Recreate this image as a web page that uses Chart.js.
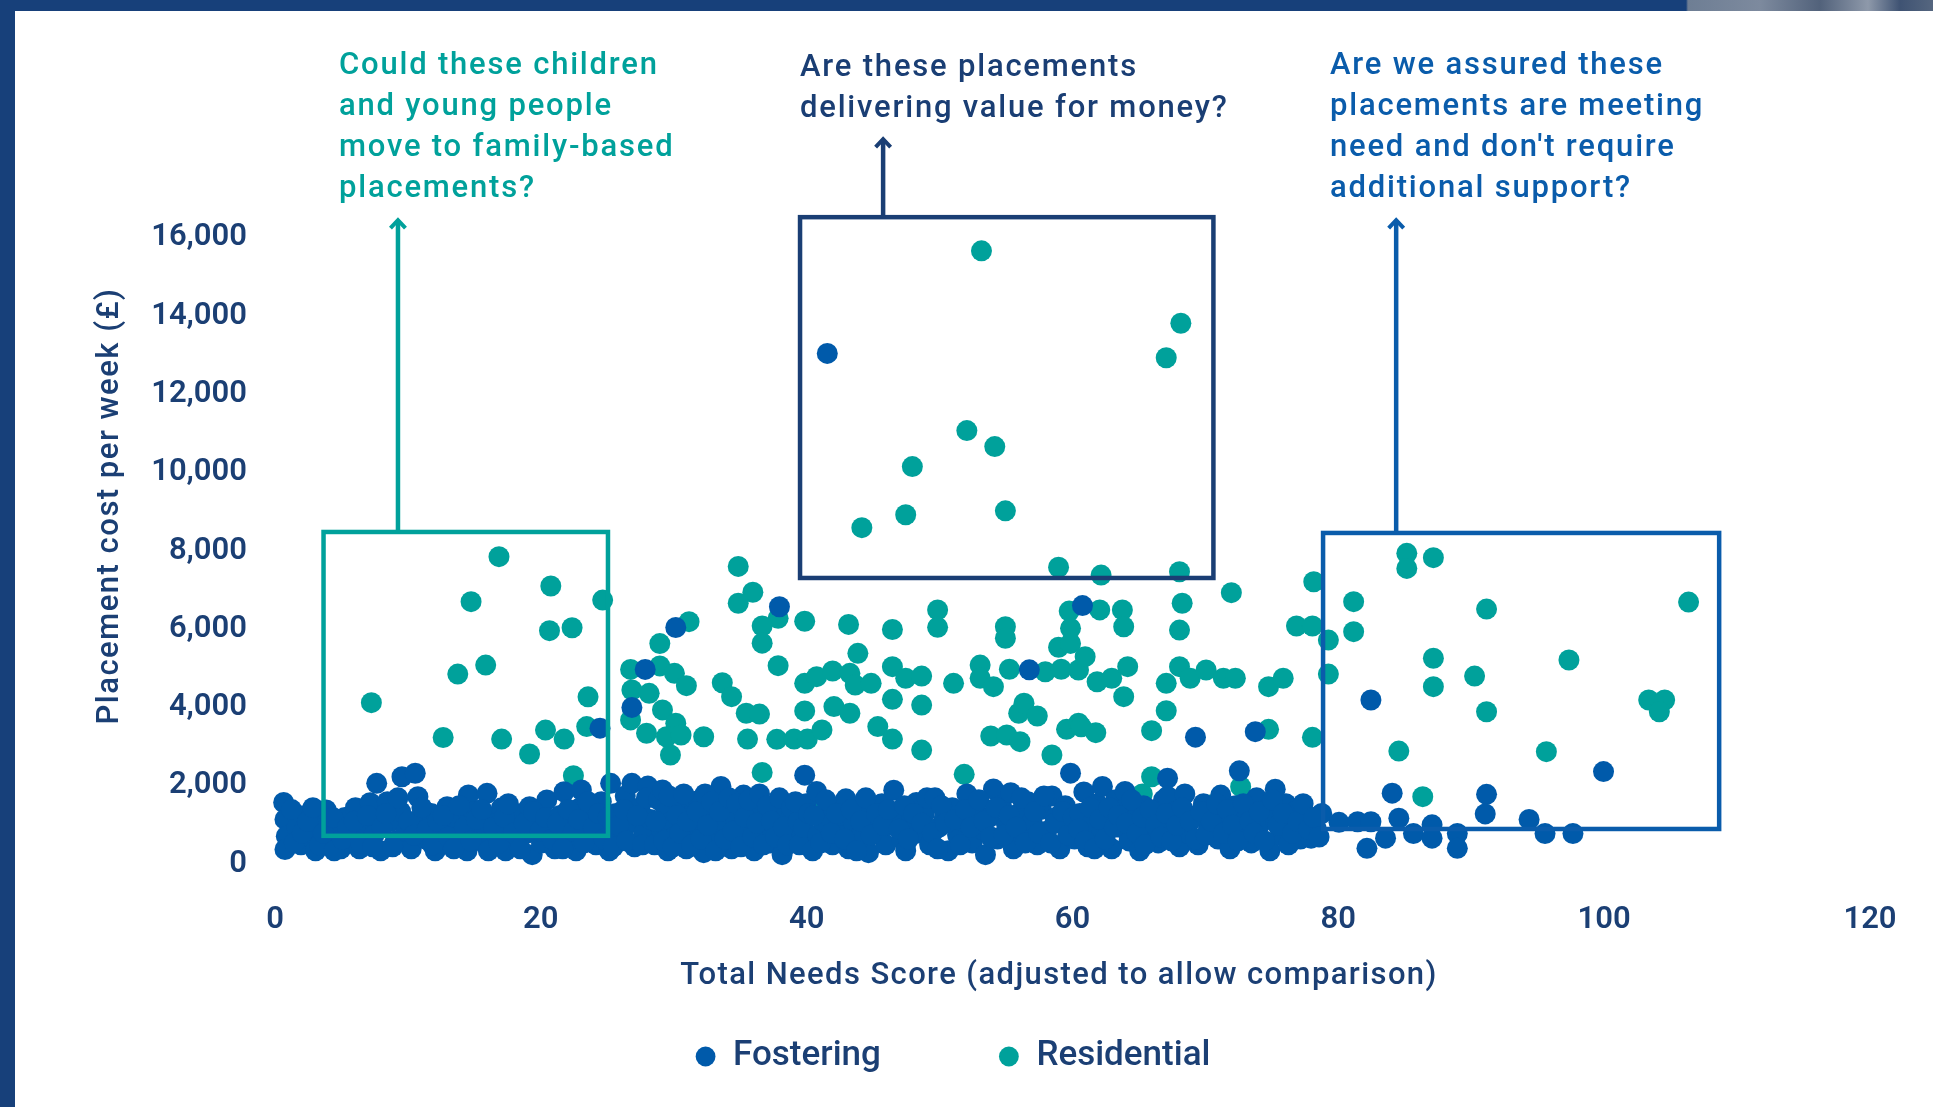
<!DOCTYPE html>
<html lang="en">
<head>
<meta charset="UTF-8">
<title>Placement cost per week against Total Needs Score</title>
<style>
  html, body { margin: 0; padding: 0; background: #fff; }
  body { width: 1933px; height: 1107px; position: relative; overflow: hidden; }
  /* page frame: dark bar at the top and on the left */
  .top-bar {
    position: absolute; left: 0; top: 0; width: 1933px; height: 11px;
    background: linear-gradient(to right, #17407a 0, #17407a 1686px, #6e7e94 1688px, #7d8a9e 1760px,
                #52627b 1820px, #8e99aa 1868px, #3f5373 1900px, #55667f 1933px);
  }
  .left-bar { position: absolute; left: 0; top: 0; width: 15px; height: 1107px; background: #17407a; }
  .chart-box { position: absolute; left: 0; top: 0; width: 1933px; height: 1107px; }
</style>
</head>
<body>
<div class="top-bar"></div>
<div class="left-bar"></div>
<div class="chart-box"><canvas id="scatter"></canvas></div>

<script src="https://cdn.jsdelivr.net/npm/chart.js"></script>
<script>
// ---- data: [needs score, cost per week £] ----
const seriesNames = ['Fostering', 'Residential'];
const xTickValues = [0, 20, 40, 60, 80, 100, 120];
const yTickValues = [0, 2000, 4000, 6000, 8000, 10000, 12000, 14000, 16000];

const fostering = [
  // the few high-cost ones
  [41.1,12950],[37.5,6480],[60.3,6510],[29.7,5950],[27.4,4880],[56.3,4870],[82.0,4100],[26.4,3910],
  [24.0,3380],[73.3,3290],[68.8,3150],[99.5,2270],[72.1,2290],[59.4,2230],[39.4,2180],[66.7,2100],
  [74.8,1820],[83.6,1720],[90.7,1690],[90.6,1190],
  // the dense band near the floor
  [0.2,1480],[0.3,1050],[0.4,620],[0.3,280],[1.2,850],[1.5,400],[1.8,1150],[2.2,600],[2.6,250],
  [3.0,950],[3.4,1290],[3.6,500],[4.2,780],[4.5,300],[4.8,1100],[5.3,560],[5.6,1350],[5.9,300],
  [6.2,900],[6.7,1476],[7.2,1971],[7.0,650],[7.5,250],[8.0,1502],[8.3,1000],[8.6,500],[9.1,2140],
  [9.0,1250],[9.4,750],[9.8,300],[10.1,2227],[10.3,1629],[10.5,950],[10.9,550],[11.3,1200],[11.6,250],
  [12.0,800],[12.5,1374],[12.8,450],
  [0.8,1300],[1.0,450],[1.6,700],[2.0,1000],[2.4,1350],[2.9,400],[3.2,700],[3.9,1100],[4.0,250],
  [4.6,550],[5.0,850],[5.5,1000],[6.0,450],[6.5,1150],[6.9,350],[7.6,850],[7.9,1200],[8.4,350],
  [8.8,1600],[9.6,1000],[10.0,650],
  [13.2,1050],[13.6,650],[14.1,1673],[14.0,250],[14.5,1250],[14.9,850],[15.5,1716],[15.3,450],
  [15.8,1100],[16.2,650],[16.6,1350],[16.9,250],[17.3,900],[17.7,500],[18.1,1200],[18.7,1374],
  [18.5,700],[18.9,150],[19.3,1000],[19.6,450],[20.0,1545],[20.2,800],[20.6,300],
  [10.6,1350],[11.0,800],[11.4,400],[11.8,1000],[12.2,1150],[12.6,600],[13.0,300],[13.4,1400],
  [13.8,850],[14.3,500],[14.7,1050],[15.1,1300],[15.6,250],[16.0,850],[16.4,450],[16.8,1100],
  [17.1,1450],[17.5,700],[18.0,300],[18.3,950],[19.0,1250],[19.5,750],[19.9,1100],[20.4,550],
  [21.0,1150],[21.3,1757],[21.4,550],[21.8,950],[22.2,250],[22.6,1800],[22.5,1350],[22.9,700],
  [23.3,1100],[23.7,400],[24.1,1500],[24.4,850],[24.8,1971],[24.7,250],[25.2,1200],[25.5,600],
  [25.9,1650],[26.4,1971],[26.2,950],[26.6,350],[27.0,1350],[27.3,700],[27.6,1900],[27.8,1050],
  [20.8,950],[21.2,300],[21.6,1300],[22.0,750],[22.4,1050],[22.8,450],[23.1,1500],[23.5,850],
  [23.9,1200],[24.3,550],[24.6,1100],[25.0,350],[25.4,900],[25.8,1300],[26.0,500],[26.8,1150],
  [27.2,400],[27.5,1600],
  [28.1,400],[28.4,1550],[28.6,800],[28.9,1200],[29.1,250],[29.4,1000],[29.6,600],[29.9,1400],
  [30.2,850],[30.5,300],[30.8,1150],[31.0,650],[31.2,1512],[31.5,950],[31.8,200],[32.0,1250],
  [32.3,700],[32.6,450],[32.9,1050],[33.1,1890],[33.3,800],[33.6,1350],[33.9,300],[34.2,1000],
  [34.5,600],[34.8,1670],[35.0,1200],[35.3,850],[35.6,250],[35.9,1450],[36.2,700],[36.5,1100],
  [36.8,450],[37.1,900],[37.4,1300],[37.7,150],[38.0,650],[38.3,1050],
  [28.2,1000],[28.7,1800],[28.8,500],[29.2,1650],[29.5,350],[29.8,1150],[30.0,700],[30.3,1700],
  [30.6,1000],[30.9,400],[31.3,1250],[31.6,550],[31.9,1700],[32.1,900],[32.4,1500],[32.7,250],
  [33.0,1250],[33.4,550],[33.7,1600],[34.0,750],[34.3,1450],[34.6,350],[34.9,1100],[35.2,1550],
  [35.5,600],[35.8,950],[36.0,1700],[36.3,400],[36.6,1400],[36.9,1000],[37.2,600],[37.5,1600],
  [37.8,850],[38.1,400],[38.4,1350],[38.9,1000],[39.2,600],[39.5,1450],
  [38.7,1500],[39.0,400],[39.3,850],[39.7,1200],[40.0,250],[40.3,1764],[40.4,650],[40.8,1000],
  [41.2,1400],[41.5,400],[41.9,800],[42.2,1150],[42.5,1575],[42.7,300],[43.1,950],[43.5,600],
  [43.8,1300],[44.2,200],[44.5,1050],[44.9,700],[45.2,1450],[45.5,400],[45.9,900],[46.1,1795],
  [46.3,1200],[46.7,550],[47.0,250],[47.4,1000],[47.8,1480],[48.0,700],[48.4,1200],
  [40.1,1150],[40.6,450],[41.0,1550],[41.4,700],[41.8,1200],[42.4,550],[42.9,1300],[43.3,250],
  [43.6,1000],[44.0,1600],[44.4,650],[44.8,1200],[45.3,900],[45.7,1300],[46.5,800],[46.9,1400],
  [47.2,550],[47.6,1200],[48.2,950],[48.6,1600],
  [48.8,400],[49.2,1600],[49.5,850],[49.9,1100],[50.2,250],[50.5,1350],[50.9,650],[51.3,1000],
  [51.6,1700],[52.0,450],[52.3,1250],[52.7,800],[53.0,150],[53.3,1100],[53.6,1827],[53.9,550],
  [54.2,1400],[54.6,900],[54.9,1732],[55.1,300],[55.5,1200],[55.8,650],[56.2,1500],[56.5,1000],
  [56.9,400],[57.2,1300],[57.6,750],[58.0,1650],[58.3,1100],[58.6,300],[59.0,1400],[59.3,850],
  [59.7,550],
  [49.0,700],[49.4,300],[49.7,1400],[50.0,950],[50.7,1050],[51.1,400],[51.5,1300],[51.9,850],
  [52.5,1550],[52.9,1000],[53.4,600],[53.8,1350],[54.4,650],[54.8,1150],[55.3,850],[55.7,1600],
  [56.0,450],[56.7,1250],[57.0,700],[57.4,1650],[57.9,450],[58.2,950],[58.8,1250],[59.2,650],
  [59.6,1100],
  [60.1,1200],[60.4,1750],[60.7,350],[61.0,950],[61.4,1450],[61.8,1890],[61.7,650],[62.1,1150],
  [62.5,300],[62.8,1550],[63.1,850],[63.5,1764],[63.4,1300],[63.8,500],[64.2,1050],[64.6,250],
  [64.9,1400],[65.2,750],[65.6,1150],[66.0,450],[66.4,1550],[66.7,1638],[66.9,900],[67.3,1250],
  [67.6,350],[68.0,1700],[68.2,700],[68.6,1100],[69.0,400],[69.4,1450],[69.8,850],[70.2,1200],
  [70.7,1670],[70.5,550],[71.0,1000],[71.4,300],
  [60.0,800],[60.5,500],[60.9,1350],[61.2,300],[61.6,1050],[62.0,550],[62.3,1350],[62.7,850],
  [63.0,1150],[63.6,950],[64.0,1550],[64.4,700],[64.8,1100],[65.0,400],[65.4,1300],[65.8,900],
  [66.2,600],[66.6,1200],[67.0,500],[67.4,900],[67.8,1350],[68.4,1000],[68.8,550],[69.2,1250],
  [69.6,650],[70.0,1000],[70.4,1450],[70.9,700],
  [71.8,1400],[72.2,750],[72.6,1150],[73.0,450],[73.4,1600],[73.7,950],[74.1,1300],[74.4,250],
  [74.8,1050],[75.2,650],[75.6,1450],[75.9,900],[76.3,1250],[76.7,550],[77.1,1050],[77.5,570],
  [77.9,800],[78.3,1200],
  [71.2,1300],[71.6,900],[72.0,500],[72.4,1450],[72.9,1000],[73.2,700],[73.6,1250],[74.0,500],
  [74.6,1550],[75.0,900],[75.4,1200],[75.8,400],[76.1,700],[76.5,1000],[76.9,1450],[77.3,800],
  [77.7,1100],[78.1,600],
  // thinning out past 80
  [79.6,975],[81.0,990],[82.0,990],[84.1,1080],[81.7,310],[83.1,570],[85.2,690],[86.6,910],
  [86.6,570],[88.5,690],[88.5,310],[93.9,1050],[95.1,690],[97.2,690]
];

const residential = [
  [6.8,4030],[14.3,6610],[16.4,7760],[20.3,7010],[24.2,6650],[20.2,5870],[21.9,5945],[15.4,4990],
  [13.3,4760],[23.1,4180],[23.0,3420],[12.2,3140],[16.6,3100],[19.9,3330],[21.3,3100],[18.7,2720],
  [22.0,2165],
  [52.7,15570],[67.7,13720],[66.6,12840],[51.6,10980],[53.7,10570],[47.5,10060],[47.0,8830],
  [43.7,8500],[54.5,8930],[58.5,7490],[61.7,7290],[67.6,7375],
  [34.4,7510],[35.5,6850],[34.4,6570],[30.7,6100],[28.5,5540],[37.4,6185],[36.2,5990],[36.2,5550],
  [39.4,6110],[42.7,6030],[46.0,5900],[49.4,6400],[49.4,5955],[54.5,5970],[54.5,5675],[59.3,6370],
  [59.4,5930],[58.5,5445],[43.4,5290],[37.4,4975],[26.3,4880],[28.5,4970],[29.6,4780],[30.5,4465],
  [26.4,4355],[27.7,4270],[33.2,4540],[33.9,4185],[39.4,4525],[40.3,4695],[41.5,4840],[42.8,4780],
  [43.2,4480],[44.4,4525],[46.0,4950],[47.0,4655],[48.2,4710],[50.6,4525],[52.6,4990],[52.6,4655],
  [53.6,4440],[54.8,4885],[57.5,4820],[58.7,4885],[60.0,4865],[28.7,3845],[29.7,3505],[26.3,3590],
  [27.5,3250],[29.0,3160],[29.3,2695],[30.1,3205],[31.8,3160],[35.0,3760],[36.0,3740],[35.1,3100],
  [37.3,3095],[38.6,3100],[39.6,3100],[40.7,3335],[39.4,3820],[41.6,3930],[42.8,3760],[44.9,3420],
  [46.0,3100],[48.2,3970],[48.2,2820],[46.0,4115],[53.4,3180],[54.6,3205],[55.6,3035],[55.5,3760],
  [55.9,4015],[56.9,3690],[59.1,3350],[60.0,3505],[58.0,2695],[36.2,2250],[51.4,2200],[31.8,1470],
  [40.6,1420],
  [71.5,6840],[77.7,7120],[84.7,7845],[84.7,7460],[86.7,7735],[80.7,6610],[80.7,5845],[90.7,6420],
  [67.8,6570],[67.6,5885],[61.6,6400],[63.3,6400],[63.4,5970],[59.4,5545],[60.5,5205],[61.4,4565],
  [62.5,4655],[63.7,4950],[63.4,4185],[66.6,4525],[67.6,4950],[68.4,4655],[69.6,4865],[70.9,4655],
  [71.8,4655],[74.3,4440],[75.4,4655],[76.4,5990],[77.6,5990],[78.8,5630],[78.8,4760],[66.6,3825],
  [65.5,3315],[74.3,3350],[77.6,3145],[60.2,3415],[61.3,3265],[86.7,5165],[86.7,4440],[89.8,4710],
  [90.7,3800],[84.1,2795],[85.9,1630],[64.8,1700],[65.5,2140],[72.2,1885],[69.9,1420],
  [105.9,6600],[96.9,5120],[102.9,4100],[104.1,4100],[103.7,3800],[95.2,2780]
];

// ---- annotation boxes (in axis units) and their questions ----
const callouts = [
  { x0: 3.2, x1: 24.6, y0: 630, y1: 8390, arrowX: 8.8, arrowTip: 16380, color: '#00a19b',
    textX: 339, textY: 66.7,
    lines: ['Could these children', 'and young people', 'move to family-based', 'placements?'] },
  { x0: 39.05, x1: 70.15, y0: 7215, y1: 16430, arrowX: 45.3, arrowTip: 18450, color: '#1a3e74',
    textX: 800, textY: 68.7,
    lines: ['Are these placements', 'delivering value for money?'] },
  { x0: 78.4, x1: 108.2, y0: 805, y1: 8365, arrowX: 83.9, arrowTip: 16380, color: '#0a5cab',
    textX: 1330, textY: 66.7,
    lines: ['Are we assured these', 'placements are meeting', "need and don't require", 'additional support?'] }
];

const navy = '#1b3f74';
const textFont = 'Roboto, "Open Sans", sans-serif';

const calloutPlugin = {
  id: 'callouts',
  afterDatasetsDraw(chart) {
    const { ctx, scales: { x, y } } = chart;
    ctx.save();
    callouts.forEach(c => {
      const l = x.getPixelForValue(c.x0), r = x.getPixelForValue(c.x1);
      const t = y.getPixelForValue(c.y1), b = y.getPixelForValue(c.y0);
      const ax = x.getPixelForValue(c.arrowX), tip = y.getPixelForValue(c.arrowTip);
      ctx.strokeStyle = c.color;
      ctx.lineWidth = 4.5;
      ctx.lineJoin = 'miter';
      ctx.strokeRect(l, t, r - l, b - t);
      ctx.beginPath();
      ctx.moveTo(ax, t);
      ctx.lineTo(ax, tip + 2);
      ctx.stroke();
      ctx.lineWidth = 4;
      ctx.beginPath();
      ctx.moveTo(ax - 7.5, tip + 9);
      ctx.lineTo(ax, tip + 1);
      ctx.lineTo(ax + 7.5, tip + 9);
      ctx.stroke();

      ctx.fillStyle = c.color;
      ctx.font = '500 31px ' + textFont;
      ctx.letterSpacing = '1.8px';
      ctx.textAlign = 'left';
      ctx.textBaseline = 'middle';
      c.lines.forEach((s, i) => ctx.fillText(s, c.textX, c.textY + i * 41));
    });
    ctx.restore();
  },
  afterDraw(chart) {
    // axis titles, placed as in the original layout
    const { ctx } = chart;
    ctx.save();
    ctx.fillStyle = navy;
    ctx.font = '500 31px ' + textFont;
    ctx.letterSpacing = '1.4px';
    ctx.textAlign = 'center';
    ctx.textBaseline = 'middle';
    ctx.fillText('Total Needs Score (adjusted to allow comparison)', 1059, 976.5);
    ctx.letterSpacing = '1.5px';
    ctx.translate(110.5, 506);
    ctx.rotate(-Math.PI / 2);
    ctx.fillText('Placement cost per week (£)', 0, 0);
    ctx.restore();
  }
};

new Chart(document.getElementById('scatter'), {
  type: 'scatter',
  data: {
    datasets: [
      {
        label: seriesNames[0],
        data: fostering.map(p => ({ x: p[0], y: p[1] })),
        backgroundColor: '#005aaa',
        borderWidth: 0,
        pointRadius: 10.5,
        pointHoverRadius: 10.5,
        clip: false
      },
      {
        label: seriesNames[1],
        data: residential.map(p => ({ x: p[0], y: p[1] })),
        backgroundColor: '#00a19b',
        borderWidth: 0,
        pointRadius: 10.5,
        pointHoverRadius: 10.5,
        clip: false
      }
    ]
  },
  options: {
    responsive: true,
    maintainAspectRatio: false,
    animation: false,
    layout: { padding: { left: 30, right: 57, top: 234, bottom: 23 } },
    scales: {
      x: {
        type: 'linear',
        min: 0,
        max: 120,
        afterBuildTicks: s => { s.ticks = xTickValues.map(v => ({ value: v })); },
        afterFit: s => { s.height = 60.5; },
        border: { display: false },
        grid: { display: false, drawTicks: false },
        // mirrored with negative padding: labels sit below the axis box without being clipped by it
        ticks: {
          mirror: true,
          padding: -78,
          labelOffset: -6,
          color: navy,
          font: { family: textFont, size: 31, weight: '600' }
        }
      },
      y: {
        type: 'linear',
        min: 0,
        max: 16000,
        afterBuildTicks: s => { s.ticks = yTickValues.map(v => ({ value: v })); },
        afterFit: s => { s.width = 251; },
        border: { display: false },
        grid: { display: false, drawTicks: false },
        ticks: {
          padding: 34,
          labelOffset: 3.5,
          color: navy,
          font: { family: textFont, size: 31, weight: '600' },
          callback: v => v.toLocaleString('en-GB')
        }
      }
    },
    plugins: {
      legend: {
        position: 'bottom',
        labels: {
          usePointStyle: true,
          pointStyle: 'circle',
          boxWidth: 20,
          boxHeight: 14,
          padding: 118,
          color: navy,
          font: { family: textFont, size: 35, weight: '500' }
        }
      },
      tooltip: { enabled: false }
    }
  },
  plugins: [calloutPlugin]
});
</script>
</body>
</html>
